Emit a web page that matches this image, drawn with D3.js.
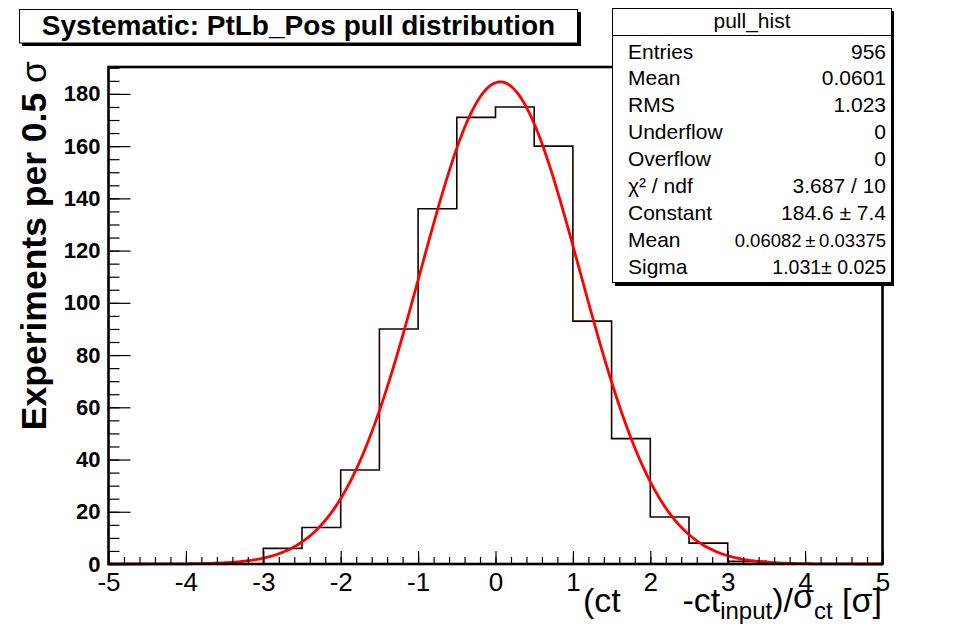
<!DOCTYPE html>
<html><head><meta charset="utf-8">
<script src="https://cdn.jsdelivr.net/npm/d3@7"></script>
<style>
body{margin:0;background:#fff}
text{font-family:"Liberation Sans",Arial,Helvetica,sans-serif}
</style>
</head><body>
<svg id="c" width="975" height="626"></svg>
<script>
// ---- data ----
const binLow = [-5,-4.5,-4,-3.5,-3,-2.5,-2,-1.5,-1,-0.5,0,0.5,1,1.5,2,2.5,3,3.5,4,4.5];
const binCounts = [0,0,0,0,6,14,36,90,136,171,175,160,93,48,18,8,1,0,0,0];
const binWidth = 0.5;
const xTicks = [-5,-4,-3,-2,-1,0,1,2,3,4,5];
const yTicks = [0,20,40,60,80,100,120,140,160,180];
const fitConstant = 184.6, fitMean = 0.06082, fitSigma = 1.031;
const statLabels = ["Entries","Mean","RMS","Underflow","Overflow","χ² / ndf","Constant","Mean","Sigma"];
const statValues = ["956","0.0601","1.023","0","0","3.687 / 10","184.6 ± 7.4","0.06082\u2009±\u20090.03375","1.031± 0.025"];
const titleText = "Systematic: PtLb_Pos pull distribution";
const statTitle = "pull_hist";

// ---- layout ----
const svg = d3.select("#c");
const L = 108.5, R = 882.5, T = 67, B = 564;
const x = d3.scaleLinear().domain([-5,5]).range([L,R]);
const y = d3.scaleLinear().domain([0,190.3]).range([B,T]);

// histogram outline
const hp = d3.path();
hp.moveTo(x(binLow[0]), y(0));
binLow.forEach((lo,i)=>{
  hp.lineTo(x(lo), y(binCounts[i]));
  hp.lineTo(x(lo+binWidth), y(binCounts[i]));
});
hp.lineTo(x(binLow[binLow.length-1]+binWidth), y(0));
svg.append("path").attr("d", hp.toString()).attr("fill","none")
  .attr("stroke","#1a0000").attr("stroke-width",1.6);

// fit curve (gaussian with the fitted parameters shown in the stats box)
const fx = d3.range(-5, 5.0001, 0.02);
const line = d3.line().x(d=>x(d)).y(d=>y(fitConstant*Math.exp(-0.5*Math.pow((d-fitMean)/fitSigma,2))));
svg.append("path").datum(fx).attr("d", line).attr("fill","none")
  .attr("stroke","#ff0000").attr("stroke-width",2.8);

// axes
const gx = svg.append("g").attr("transform",`translate(0,${B})`);
gx.call(d3.axisBottom(x).tickValues(xTicks).tickSize(-13).tickPadding(9).tickFormat(d=>String(d)));
const gxm = svg.append("g").attr("transform",`translate(0,${B})`);
gxm.call(d3.axisBottom(x).tickValues(d3.range(-5,5.001,0.2)).tickSize(-7).tickFormat(""));
const gy = svg.append("g").attr("transform",`translate(${L},0)`);
gy.call(d3.axisLeft(y).tickValues(yTicks).tickSize(-22).tickPadding(8).tickFormat(d=>String(d)));
const gym = svg.append("g").attr("transform",`translate(${L},0)`);
gym.call(d3.axisLeft(y).tickValues(d3.range(0,191,5)).tickSize(-11).tickFormat(""));
[gx,gxm,gy,gym].forEach(g=>{g.select(".domain").remove(); g.selectAll(".tick line").attr("stroke","#000").attr("stroke-width",1.2);});
gx.selectAll("text").attr("font-size",26).attr("fill","#000").attr("font-family","Liberation Sans, Arial, sans-serif");
gy.selectAll("text").attr("font-size",22).attr("font-weight","bold").attr("fill","#000").attr("font-family","Liberation Sans, Arial, sans-serif");

// frame
svg.append("rect").attr("x",L).attr("y",T).attr("width",R-L).attr("height",B-T)
  .attr("fill","none").attr("stroke","#000").attr("stroke-width",2.6);

// axis titles
const yt = svg.append("text").attr("transform",`translate(46,61) rotate(-90)`)
  .attr("text-anchor","end").attr("font-size",35.5).attr("font-weight","bold");
yt.append("tspan").text("Experiments per 0.5 ");
yt.append("tspan").attr("font-weight","normal").text("σ");

svg.append("text").attr("x",583).attr("y",612).attr("font-size",34).text("(ct");
const xt = svg.append("text").attr("x",882).attr("y",612).attr("text-anchor","end").attr("font-size",34);
xt.append("tspan").text("-ct");
xt.append("tspan").attr("font-size",24).attr("dy",7).text("input");
xt.append("tspan").attr("dy",-7).text(")/");
xt.append("tspan").attr("dy",-4).text("σ");
xt.append("tspan").attr("font-size",24).attr("dy",11).text("ct");
xt.append("tspan").attr("dy",-7).text(" [σ]");

// title box
svg.append("rect").attr("x",22).attr("y",12).attr("width",559).attr("height",34).attr("fill","#000");
svg.append("rect").attr("x",19.5).attr("y",9.5).attr("width",558).attr("height",33.5)
  .attr("fill","#fff").attr("stroke","#000").attr("stroke-width",1);
svg.append("text").attr("x",298.5).attr("y",35).attr("text-anchor","middle")
  .attr("font-size",28).attr("font-weight","bold").text(titleText);

// stats box
svg.append("rect").attr("x",615).attr("y",11).attr("width",279).attr("height",275).attr("fill","#000");
svg.append("rect").attr("x",612.5).attr("y",8.5).attr("width",279).attr("height",274)
  .attr("fill","#fff").attr("stroke","#000").attr("stroke-width",1);
svg.append("line").attr("x1",612.5).attr("x2",891.5).attr("y1",35.5).attr("y2",35.5)
  .attr("stroke","#000").attr("stroke-width",1);
svg.append("text").attr("x",752).attr("y",28).attr("text-anchor","middle").attr("font-size",21).text(statTitle);
const valueSize = [21,21,21,21,21,21,21,18.5,19.5];
statLabels.forEach((s,i)=>{
  svg.append("text").attr("x",628).attr("y",58.5+26.9*i).attr("font-size",21).text(s);
  svg.append("text").attr("x",886).attr("y",58.5+26.9*i).attr("text-anchor","end").attr("font-size",valueSize[i]).text(statValues[i]);
});
</script>
</body></html>
